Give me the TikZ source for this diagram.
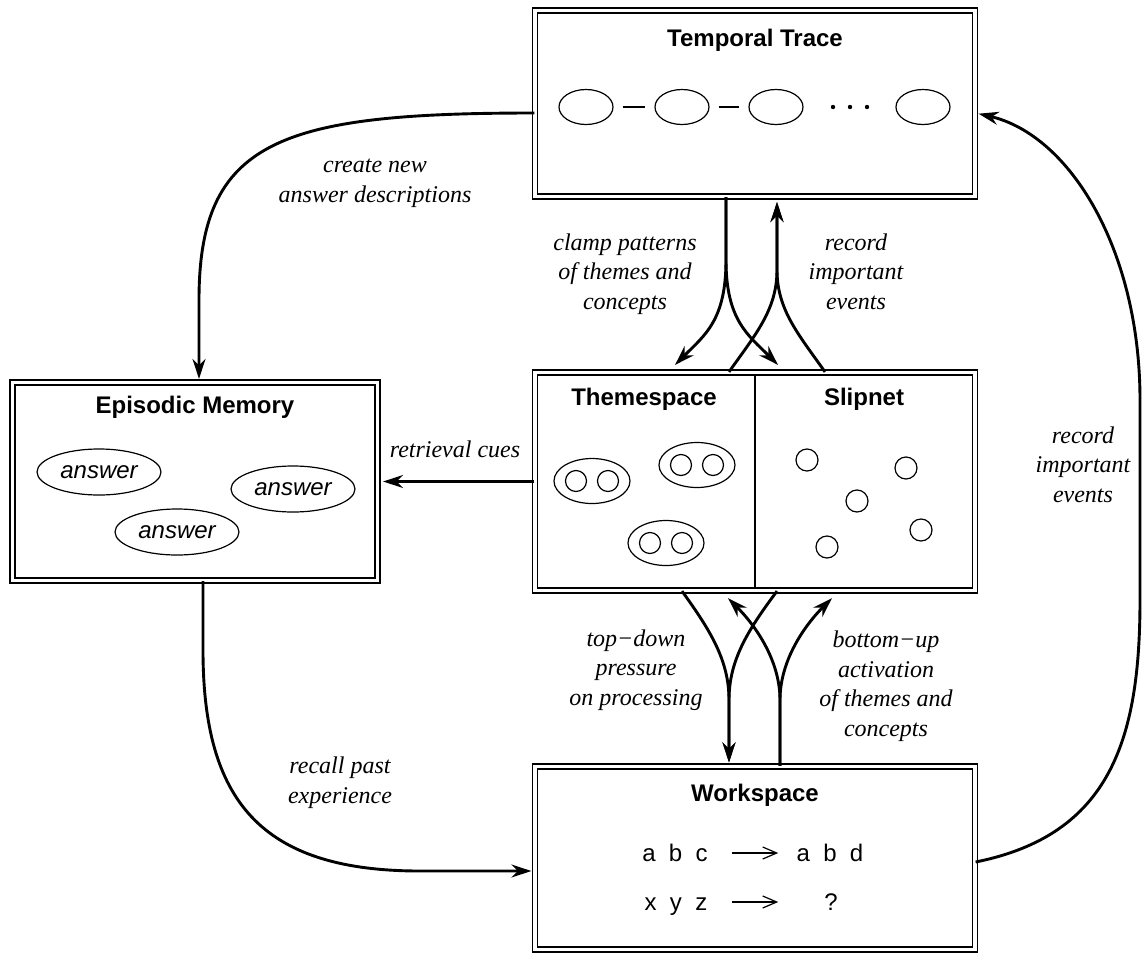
\documentclass[tikz,border=0pt]{standalone}
\usepackage{fontspec}
\setmainfont{Liberation Serif}
\setsansfont{Liberation Sans}
\usepackage{tikz}
\usetikzlibrary{calc,arrows.meta,shapes.geometric}

\begin{document}
\begin{tikzpicture}[x=0.5pt,y=-0.5pt,
    box/.style={draw, rectangle, line width=0.6pt, double, double distance=1.9pt, inner sep=0pt},
    heading/.style={font=\sffamily\bfseries\fontsize{12}{14}\selectfont, anchor=base, inner sep=0pt},
    lbl/.style={font=\rmfamily\itshape\fontsize{12}{14.75}\selectfont, align=center, anchor=base, inner sep=0pt},
    letters/.style={font=\sffamily\fontsize{12}{14}\selectfont, anchor=base, inner sep=0pt},
    flow/.style={line width=1.45pt, -{Stealth[length=10pt,width=6.5pt]}},
    blob/.style={draw, ellipse, line width=0.6pt, inner sep=0pt},
    bead/.style={draw, circle, line width=0.6pt, minimum size=10.5pt, inner sep=0pt}]
    \useasboundingbox (0,0) rectangle (1142,954);

    % the four boxes
    \node[box, minimum width=220pt, minimum height=93pt] (trace) at (755,103.5) {};
    \node[box, minimum width=182.5pt, minimum height=99pt] (episodic) at (195,481.5) {};
    \node[box, minimum width=220pt, minimum height=109pt] (themes) at (755,481.5) {};
    \node[box, minimum width=220pt, minimum height=91.5pt] (workspace) at (755,858) {};
    \draw[line width=0.6pt, shorten <=1.25pt, shorten >=1.25pt] (themes.north) -- (themes.south);

    \node[heading] (trace-title) at (755,46) {Temporal Trace};
    \node[heading] (episodic-title) at (195,413) {Episodic Memory};
    \node[heading] (themes-title) at (644,405) {Themespace};
    \node[heading] (slipnet-title) at (864,405) {Slipnet};
    \node[heading] (workspace-title) at (755,801) {Workspace};

    % temporal trace
    \foreach \n/\x in {1/586,2/682,3/776,4/923}
        \node[blob, minimum width=27pt, minimum height=17.5pt] (ev\n) at (\x,107) {};
    \draw[line width=0.6pt, shorten <=4.5pt, shorten >=4.5pt] (ev1) -- (ev2);
    \draw[line width=0.6pt, shorten <=4.5pt, shorten >=4.5pt] (ev2) -- (ev3);
    \foreach \x in {833,850,867}
        \fill (\x,107) circle (1.1pt);

    % episodic memory
    \node[blob, minimum width=62pt, minimum height=23pt, font=\sffamily\itshape\fontsize{12}{14}\selectfont] (ans1) at (99,472) {answer};
    \node[blob, minimum width=62pt, minimum height=23pt, font=\sffamily\itshape\fontsize{12}{14}\selectfont] (ans2) at (293,489) {answer};
    \node[blob, minimum width=62pt, minimum height=23pt, font=\sffamily\itshape\fontsize{12}{14}\selectfont] (ans3) at (177,532) {answer};

    % themespace and slipnet
    \foreach \n/\x/\y in {1/592/481,2/697/465,3/666/543} {
        \node[blob, minimum width=38pt, minimum height=22.5pt] (grp\n) at (\x,\y) {};
        \node[bead] (grp\n-a) at (\x-16,\y) {};
        \node[bead] (grp\n-b) at (\x+16,\y) {};
    }
    \foreach \n/\x/\y in {1/807/460,2/906/468,3/857/501,4/921/530,5/827/547}
        \node[bead, minimum size=11pt] (con\n) at (\x,\y) {};

    % workspace
    \node[letters] (abc) at (675,861) {a~~b~~c};
    \node[letters] (abd) at (830,861) {a~~b~~d};
    \node[letters] (xyz) at (676,910) {x~~y~~z};
    \node[letters] (what) at (831,910) {?};
    \draw[line width=0.6pt, -{Straight Barb[length=7pt,width=6pt]}] ([xshift=12pt,yshift=4pt]abc.base east) -- ([xshift=-9pt,yshift=4pt]abd.base west);
    \draw[line width=0.6pt, -{Straight Barb[length=7pt,width=6pt]}] ([xshift=12pt,yshift=4pt]xyz.base east) -- ($(abd.base west |- xyz.base)+(-18,-8)$);

    % labels (placed at the baseline of their last line)
    \node[lbl] (create-lbl) at (375,202) {create new\\answer descriptions};
    \node[lbl] (recall-lbl) at (340,803) {recall past\\experience};
    \node[lbl] (cue-lbl) at (455,457) {retrieval cues};
    \node[lbl] (clamp-lbl) at (625,309) {clamp patterns\\of themes and\\concepts};
    \node[lbl] (rec-lbl) at (856,309) {record\\important\\events};
    \node[lbl] (press-lbl) at (636,705) {top−down\\pressure\\on processing};
    \node[lbl] (act-lbl) at (886,736) {bottom−up\\activation\\of themes and\\concepts};
    \node[lbl] (rec2-lbl) at (1083,502) {record\\important\\events};

    % connectors
    \draw[flow, shorten >=1.5pt] ($(trace.west)+(0,9.5)$) .. controls (280,113) and (199,140) .. (199,300) -- ($(episodic.north)+(4,0)$);
    \draw[flow, shorten >=1.5pt] ($(episodic.south)+(8,0)$) -- (203,650) .. controls (203,800) and (260,871) .. (420,871) -- ($(workspace.west)+(0,13)$);
    \draw[flow, shorten >=2.5pt] (themes.west) -- (episodic.east);
    \draw[flow, shorten >=1.5pt] ($(workspace.east)+(0,4)$) .. controls (1110,835) and (1140,740) .. (1140,600) -- (1140,400) .. controls (1140,250) and (1070,135) .. ($(trace.east)+(0,9.5)$);

    \draw[flow] ($(trace.south)+(-29,0)$) -- (726,260) .. controls (726,320) and (705,335) .. ($(themes.north)+(-80,-7)$);
    \draw[flow] ($(trace.south)+(-29,0)$) -- (726,260) .. controls (726,320) and (748,335) .. ($(themes.north)+(23,-7)$);
    \draw[flow, shorten >=2.5pt] ($(themes.north)+(-26,0)$) .. controls (755,335) and (777,310) .. (777,270) -- ($(trace.south)+(22,0)$);
    \draw[flow, shorten >=2.5pt] ($(themes.north)+(70,0)$) .. controls (799,335) and (777,310) .. (777,270) -- ($(trace.south)+(22,0)$);

    \draw[flow, shorten >=1.75pt] ($(themes.south)+(-73,0)$) .. controls (710,630) and (729,660) .. (729,700) -- ($(workspace.north)+(-26,0)$);
    \draw[flow, shorten >=1.75pt] ($(themes.south)+(22,0)$) .. controls (748,630) and (729,660) .. (729,700) -- ($(workspace.north)+(-26,0)$);
    \draw[flow] ($(workspace.north)+(25,0)$) -- (780,700) .. controls (780,660) and (755,625) .. ($(themes.south)+(-27,7)$);
    \draw[flow] ($(workspace.north)+(25,0)$) -- (780,700) .. controls (780,660) and (805,625) .. ($(themes.south)+(77,7)$);
\end{tikzpicture}
\end{document}
